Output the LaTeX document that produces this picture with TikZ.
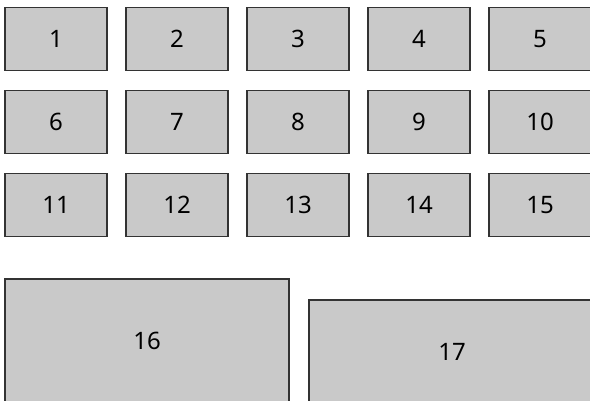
\documentclass[tikz,border=0pt]{standalone}
\usepackage{fontspec}
\setmainfont{Noto Sans}
\usepackage{tikz}
\definecolor{boxFill}{HTML}{C9C9C9}
\definecolor{boxLine}{HTML}{333333}
\tikzset{cell/.style={draw=boxLine, fill=boxFill, line width=1.8pt, inner sep=0pt,
    minimum width=102pt, minimum height=63pt, font=\fontsize{24}{28}\selectfont}}

\begin{document}
\begin{tikzpicture}[x=1pt, y=-1pt]
    \clip (0,0) rectangle (590,401);

    \foreach \r in {0,1,2} {
        \foreach \c in {0,...,4} {
            \pgfmathtruncatemacro{\n}{5*\r+\c+1}
            \node[cell] (box\n) at ({56+121*\c},{39+83*\r}) {\n};
        }
    }

    \node[cell, minimum width=284pt, minimum height=124pt] (box16) at (147,341) {16};
    \node[cell, minimum width=286pt, minimum height=103pt] (box17) at (452,351.5) {17};
\end{tikzpicture}
\end{document}
